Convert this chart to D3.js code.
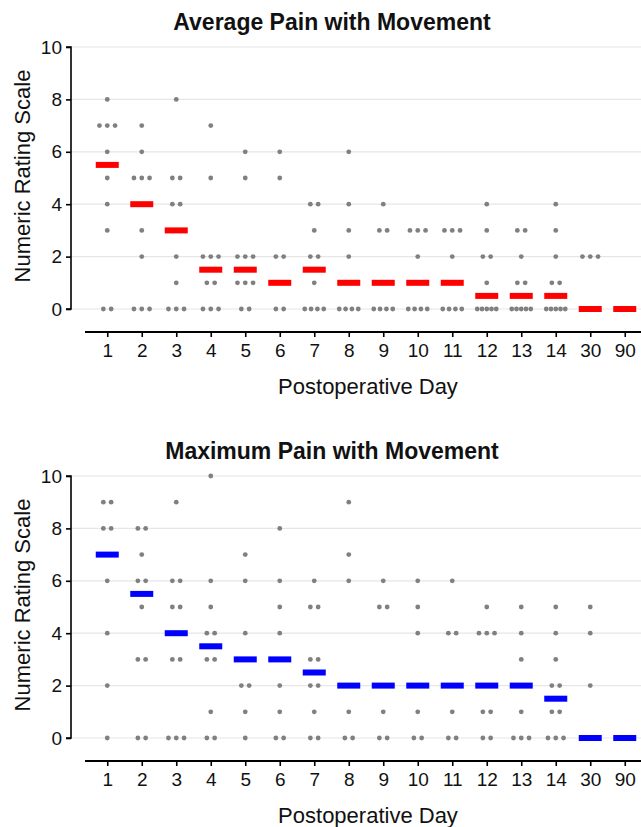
<!DOCTYPE html>
<html>
<head>
<meta charset="utf-8">
<script src="https://cdn.jsdelivr.net/npm/d3@7"></script>
<style>
  body { margin: 0; background: #fff; }
  svg { display: block; font-family: "Liberation Sans", Arial, Helvetica, sans-serif; }
</style>
</head>
<body>
<div id="chart"></div>
<script>
// postoperative days (categories)
var days = ['1', '2', '3', '4', '5', '6', '7', '8', '9', '10', '11', '12', '13', '14', '30', '90'];
var yTicks = [0, 2, 4, 6, 8, 10];

// individual patient scores per day, average pain with movement
var avgScores = [
    [8, 7, 7, 7, 6, 5, 4, 3, 0, 0],
    [7, 6, 5, 5, 5, 3, 2, 0, 0, 0],
    [8, 5, 5, 4, 4, 2, 1, 0, 0, 0],
    [7, 5, 2, 2, 2, 1, 1, 0, 0, 0],
    [6, 5, 2, 2, 2, 1, 1, 1, 0, 0],
    [6, 5, 2, 2, 0, 0],
    [4, 4, 3, 2, 2, 1, 0, 0, 0, 0],
    [6, 4, 3, 2, 0, 0, 0, 0],
    [4, 3, 3, 0, 0, 0, 0],
    [3, 3, 3, 2, 0, 0, 0, 0],
    [3, 3, 3, 2, 0, 0, 0, 0],
    [4, 3, 2, 2, 1, 0, 0, 0, 0, 0],
    [3, 3, 2, 1, 1, 0, 0, 0, 0, 0],
    [4, 3, 2, 1, 1, 0, 0, 0, 0, 0],
    [2, 2, 2],
    []
];
var avgMedians = [5.5, 4, 3, 1.5, 1.5, 1, 1.5, 1, 1, 1, 1, 0.5, 0.5, 0.5, 0, 0];

// individual patient scores per day, maximum pain with movement
var maxScores = [
    [9, 9, 8, 8, 6, 4, 2, 0],
    [8, 8, 7, 6, 6, 5, 3, 3, 0, 0],
    [9, 6, 6, 5, 5, 3, 3, 0, 0, 0],
    [10, 6, 5, 4, 4, 3, 3, 1, 0, 0],
    [7, 6, 4, 2, 2, 1, 0],
    [8, 6, 5, 4, 2, 1, 0, 0],
    [6, 5, 5, 3, 3, 2, 2, 1, 0, 0],
    [9, 7, 6, 1, 0, 0],
    [6, 5, 5, 1, 0, 0],
    [6, 5, 4, 1, 0, 0],
    [6, 4, 4, 1, 0, 0],
    [5, 4, 4, 4, 1, 1, 0, 0],
    [5, 4, 3, 1, 0, 0, 0],
    [5, 4, 3, 2, 2, 1, 1, 0, 0, 0],
    [5, 4, 2],
    []
];
var maxMedians = [7, 5.5, 4, 3.5, 3, 3, 2.5, 2, 2, 2, 2, 2, 2, 1.5, 0, 0];

var W = 641, H = 827;

var svg = d3.select('#chart').append('svg')
    .attr('width', W)
    .attr('height', H);

var x = d3.scalePoint().domain(days).range([90, 642]).padding(0.5);

function drawPanel(top, title, scores, medians, color) {
    var g = svg.append('g').attr('transform', 'translate(0,' + top + ')');

    var y = d3.scaleLinear().domain([0, 10]).range([309, 47]);

    // grid lines
    g.selectAll('.grid')
        .data(yTicks)
        .enter()
        .append('line')
        .attr('x1', 71).attr('x2', W)
        .attr('y1', d => y(d)).attr('y2', d => y(d))
        .attr('stroke', '#e6e6e6')
        .attr('stroke-width', 1.2);

    // y axis
    var yAxis = d3.axisLeft(y).tickValues(yTicks).tickSize(5).tickPadding(4);
    var ya = g.append('g')
        .attr('transform', 'translate(71,0)')
        .call(yAxis);
    ya.select('.domain').attr('stroke-width', 1.6).attr('d', 'M-5,' + y(10) + 'H0V' + y(0) + 'H-5');
    ya.selectAll('.tick line').attr('stroke-width', 1.6);
    ya.selectAll('.tick text').attr('font-size', 19).attr('fill', '#111').attr('font-family', null);
    ya.attr('font-family', null);

    // x axis
    var xAxis = d3.axisBottom(x).tickSize(5).tickPadding(6);
    var xa = g.append('g')
        .attr('transform', 'translate(0,332)')
        .call(xAxis);
    xa.select('.domain').attr('stroke-width', 1.8).attr('d', 'M85,0H' + W);
    xa.selectAll('.tick line').attr('stroke-width', 1.6);
    xa.selectAll('.tick text').attr('font-size', 19).attr('fill', '#111').attr('dy', '0.72em');
    xa.attr('font-family', null);

    // individual points, spread side by side when they share a value
    var pts = [];
    scores.forEach(function(list, i) {
        var counts = d3.rollup(list, v => v.length, d => d);
        counts.forEach(function(n, val) {
            var step = n > 1 ? Math.min(7.8, 19 / (n - 1)) : 0;
            for (var k = 0; k < n; k++) {
                pts.push({ day: days[i], value: val, off: (k - (n - 1) / 2) * step });
            }
        });
    });

    g.selectAll('.dot')
        .data(pts)
        .enter()
        .append('circle')
        .attr('class', 'dot')
        .attr('cx', d => x(d.day) + d.off)
        .attr('cy', d => y(d.value))
        .attr('r', 2.4)
        .attr('fill', '#808080');

    // median bars
    g.selectAll('.median')
        .data(medians)
        .enter()
        .append('rect')
        .attr('class', 'median')
        .attr('x', (d, i) => x(days[i]) - 11.5)
        .attr('y', d => y(d) - 3)
        .attr('width', 23)
        .attr('height', 6)
        .attr('fill', color);

    // titles
    g.append('text')
        .attr('x', 332)
        .attr('y', 30)
        .attr('text-anchor', 'middle')
        .attr('font-size', 23)
        .attr('font-weight', 'bold')
        .attr('fill', '#111')
        .text(title);

    g.append('text')
        .attr('transform', 'translate(30,176) rotate(-90)')
        .attr('text-anchor', 'middle')
        .attr('font-size', 22)
        .attr('fill', '#111')
        .text('Numeric Rating Scale');

    g.append('text')
        .attr('x', 368)
        .attr('y', 394)
        .attr('text-anchor', 'middle')
        .attr('font-size', 22)
        .attr('fill', '#111')
        .text('Postoperative Day');
}

drawPanel(0, 'Average Pain with Movement', avgScores, avgMedians, '#ff0000');
drawPanel(429, 'Maximum Pain with Movement', maxScores, maxMedians, '#0000ff');
</script>
</body>
</html>
